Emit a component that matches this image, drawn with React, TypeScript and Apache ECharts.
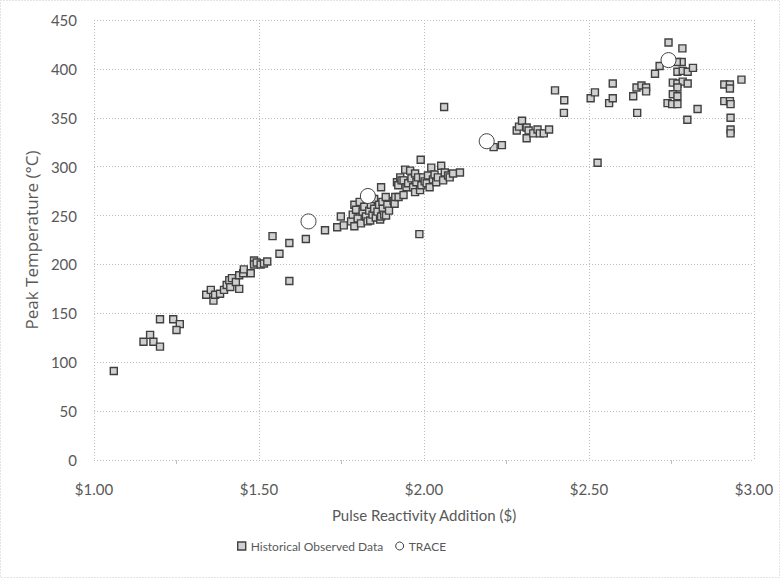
import React, { useEffect, useRef } from "react";
import * as echarts from "echarts";

const historical: [number, number][] = [
  [1.06, 91],
  [1.15, 121], [1.17, 128], [1.18, 121], [1.2, 116], [1.2, 144], [1.24, 144], [1.26, 139], [1.25, 133],
  [1.34, 169], [1.354, 174], [1.362, 163], [1.367, 169], [1.382, 170], [1.394, 174], [1.402, 179], [1.413, 177],
  [1.41, 184], [1.418, 186], [1.44, 175], [1.43, 182], [1.44, 189], [1.452, 191], [1.454, 195], [1.475, 191],
  [1.485, 204], [1.485, 200], [1.493, 202], [1.505, 200], [1.515, 201], [1.525, 203],
  [1.541, 229], [1.562, 211], [1.592, 183], [1.592, 222], [1.642, 226], [1.7, 235], [1.737, 238], [1.757, 240], [1.748, 249],
  [1.779, 244], [1.784, 251], [1.789, 261], [1.789, 239], [1.794, 256], [1.799, 247], [1.805, 264], [1.809, 242],
  [1.814, 254], [1.819, 259], [1.824, 249], [1.829, 244], [1.834, 255], [1.837, 245], [1.839, 261], [1.844, 251],
  [1.849, 267], [1.849, 257], [1.854, 248], [1.859, 254], [1.864, 261], [1.867, 246], [1.87, 249], [1.87, 279],
  [1.874, 264], [1.875, 257], [1.879, 251], [1.884, 269], [1.885, 250], [1.889, 261], [1.894, 255],
  [1.908, 265], [1.911, 262], [1.913, 269], [1.918, 284], [1.922, 281], [1.923, 269], [1.928, 289], [1.932, 286],
  [1.938, 271], [1.938, 286], [1.943, 297], [1.947, 279], [1.952, 283], [1.958, 296], [1.962, 288], [1.967, 279],
  [1.973, 293], [1.973, 274], [1.977, 284], [1.982, 289], [1.986, 231], [1.988, 276], [1.99, 307], [1.992, 281],
  [1.997, 289], [2.002, 285], [2.008, 283], [2.012, 291], [2.017, 279], [2.022, 299], [2.027, 287], [2.032, 292],
  [2.037, 284], [2.042, 289], [2.052, 301], [2.058, 286], [2.061, 361], [2.063, 294], [2.073, 291], [2.078, 289],
  [2.088, 293], [2.109, 294],
  [2.211, 320], [2.236, 322], [2.281, 337], [2.288, 341], [2.297, 347], [2.311, 340], [2.317, 337], [2.311, 329],
  [2.331, 334], [2.344, 338], [2.351, 334], [2.363, 334], [2.379, 338], [2.397, 378], [2.425, 368], [2.424, 355],
  [2.505, 370], [2.518, 376], [2.526, 304], [2.561, 365], [2.572, 370], [2.572, 385], [2.634, 372], [2.646, 355],
  [2.644, 381], [2.659, 383], [2.673, 381], [2.673, 377], [2.7, 395], [2.714, 403], [2.741, 427], [2.783, 421],
  [2.781, 407], [2.766, 407], [2.768, 397], [2.784, 398], [2.799, 397], [2.815, 401], [2.754, 386], [2.768, 385],
  [2.784, 387], [2.799, 385], [2.768, 381], [2.754, 374], [2.768, 372], [2.738, 365], [2.752, 364], [2.768, 364],
  [2.829, 359], [2.798, 348], [2.91, 384], [2.927, 384], [2.927, 380], [2.91, 367], [2.927, 367], [2.929, 364],
  [2.962, 389], [2.929, 350], [2.929, 338], [2.929, 334],
];

const trace: [number, number][] = [
  [1.65, 244], [1.83, 270], [2.19, 326], [2.741, 409],
];

const seriesNames = ["Historical Observed Data", "TRACE"];
const xTitle = "Pulse Reactivity Addition ($)";
const yTitle = "Peak Temperature (°C)";

const FONT = "Lato";
const TXT = "#595959";

export default function App() {
  const ref = useRef<HTMLDivElement>(null);
  useEffect(() => {
    if (!ref.current) return;
    const chart = echarts.init(ref.current, undefined, { renderer: "svg" });
    chart.setOption({
      animation: false,
      backgroundColor: "#ffffff",
      textStyle: { fontFamily: FONT },
      graphic: [
        {
          type: "rect",
          shape: { x: 0.5, y: 0.5, width: 779, height: 577 },
          style: { fill: "none", stroke: "#c8c8c8", lineWidth: 1, lineDash: [1, 2] },
          silent: true,
        },
      ],
      grid: { left: 94, right: 26, top: 20, bottom: 118 },
      legend: {
        bottom: 21,
        left: 232,
        itemGap: 12,
        textStyle: { color: TXT, fontSize: 12, fontFamily: FONT },
        data: [
          { name: seriesNames[0], icon: "rect", itemStyle: { color: "#d0d0d0", borderColor: "#404040", borderWidth: 1.4 } },
          { name: seriesNames[1], icon: "circle", itemStyle: { color: "#ffffff", borderColor: "#404040", borderWidth: 1 } },
        ],
        itemWidth: 8,
        itemHeight: 8,
      },
      xAxis: {
        type: "value",
        min: 1,
        max: 3,
        interval: 0.5,
        name: xTitle,
        nameLocation: "middle",
        nameGap: 47,
        nameTextStyle: { color: TXT, fontSize: 15, fontFamily: FONT },
        axisLine: { show: false },
        axisTick: { show: false },
        minorTick: { show: true, splitNumber: 2, length: 4, lineStyle: { color: "#c0c0c0" } },
        axisLabel: {
          color: TXT,
          fontSize: 15,
          margin: 21,
          fontFamily: FONT,
          formatter: (v: number) => "$" + v.toFixed(2),
        },
        splitLine: { show: true, lineStyle: { color: "#bdbdbd", type: [1, 2], width: 1 } },
      },
      yAxis: {
        type: "value",
        min: 0,
        max: 450,
        interval: 50,
        name: yTitle,
        nameLocation: "middle",
        nameGap: 50,
        nameTextStyle: { color: TXT, fontSize: 17, fontFamily: "Open Sans" },
        axisLine: { show: false },
        axisTick: { show: false },
        axisLabel: { color: TXT, fontSize: 15, margin: 17, fontFamily: FONT },
        splitLine: { show: true, lineStyle: { color: "#bdbdbd", type: [1, 2], width: 1 } },
      },
      series: [
        {
          name: seriesNames[0],
          type: "scatter",
          symbol: "rect",
          symbolSize: 7,
          data: historical,
          itemStyle: { color: "#d0d0d0", borderColor: "#404040", borderWidth: 1.4, opacity: 1 },
          z: 2,
        },
        {
          name: seriesNames[1],
          type: "scatter",
          symbol: "circle",
          symbolSize: 15,
          data: trace,
          itemStyle: { color: "#ffffff", borderColor: "#404040", borderWidth: 1, opacity: 1 },
          z: 3,
        },
      ],
    });
    return () => chart.dispose();
  }, []);
  return (
    <div
      ref={ref}
      style={{ position: "absolute", left: 0, top: 0, width: 780, height: 578 }}
    />
  );
}
